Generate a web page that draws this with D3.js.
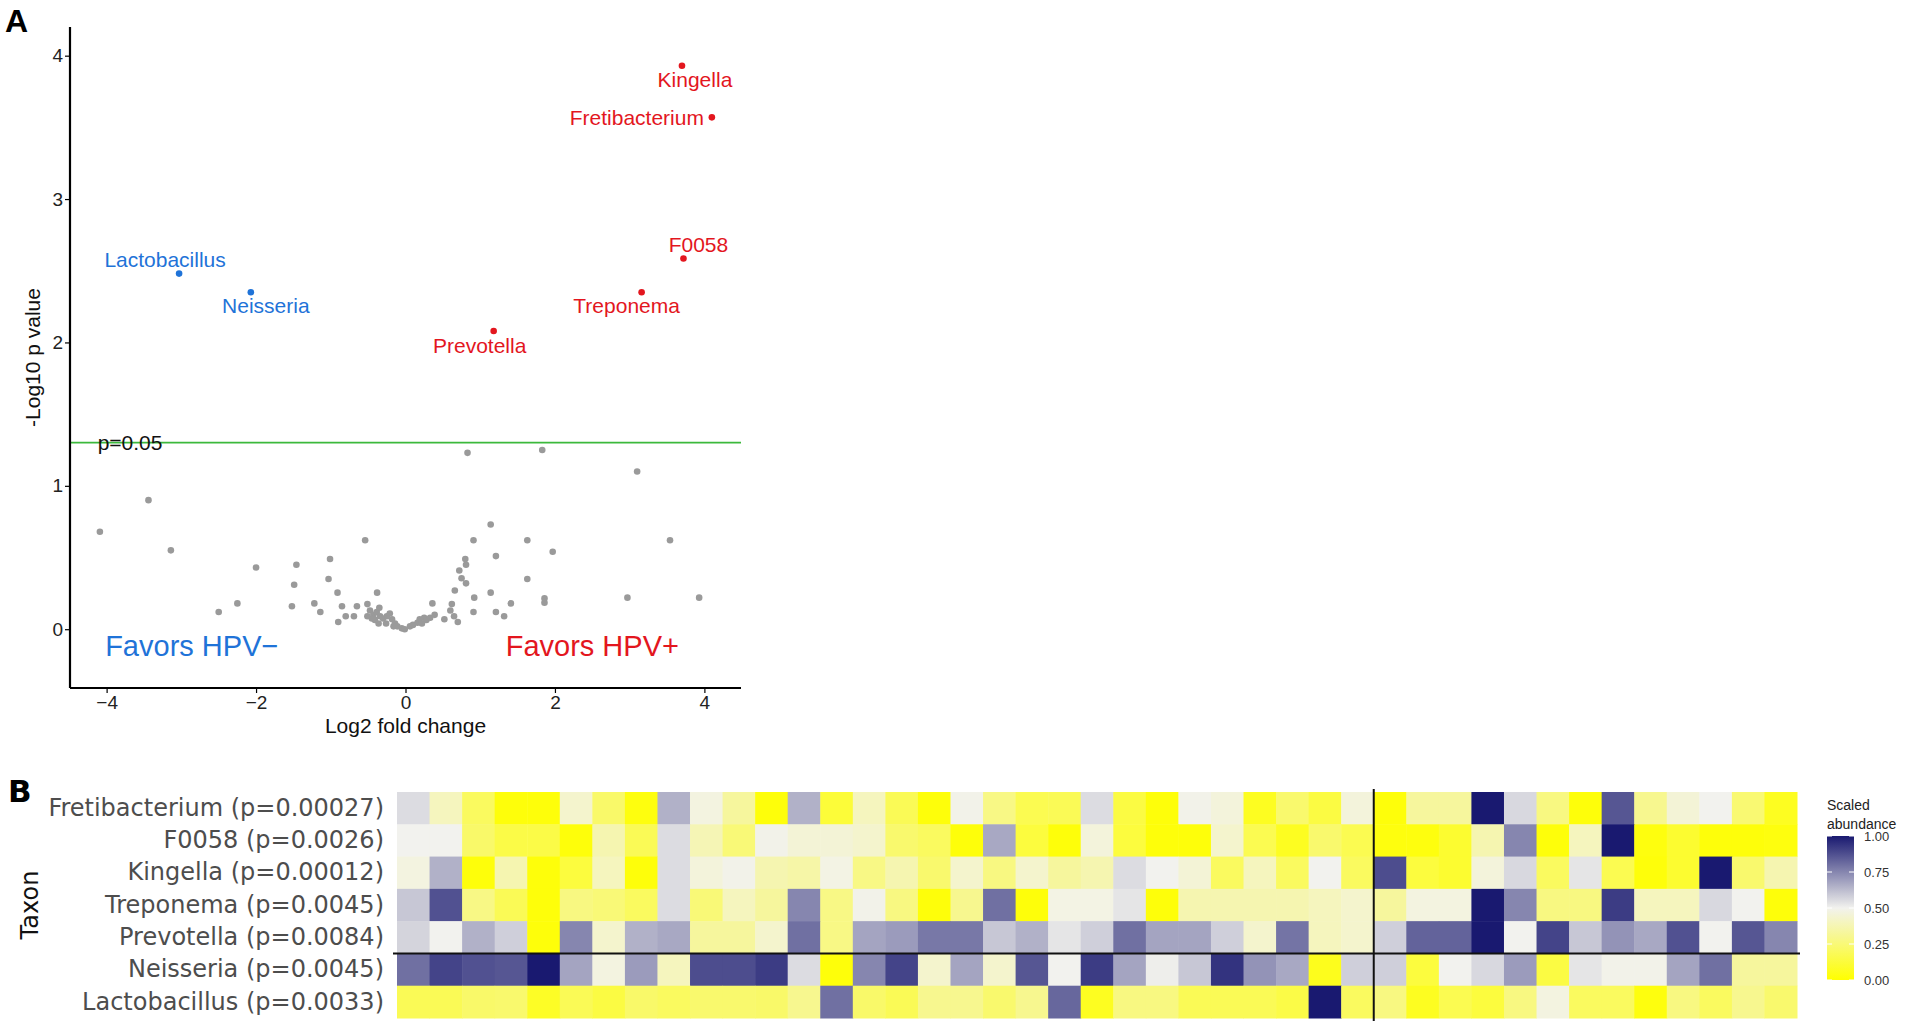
<!DOCTYPE html>
<html>
<head>
<meta charset="utf-8">
<script src="https://d3js.org/d3.v7.min.js"></script>
<style>
  body{margin:0;background:#fff;}
  svg{display:block;background:#fff;}
  .vol text{font-family:"Liberation Sans",Arial,sans-serif;}
  .heat text{font-family:"DejaVu Sans",Verdana,sans-serif;}
  .leg text{font-family:"Liberation Sans",Arial,sans-serif;}
</style>
</head>
<body>
<svg id="fig" width="1920" height="1030"></svg>
<script>
// ---- panel A data : volcano ----
const sigTaxa = ['Kingella','Fretibacterium','F0058','Treponema','Prevotella','Lactobacillus','Neisseria'];
const sigFC   = [3.70, 4.10, 3.72, 3.16, 1.18, -3.03, -2.07];
const sigP    = [3.93, 3.57, 2.585, 2.35, 2.08, 2.48, 2.35];
const sigSide = ['pos','pos','pos','pos','pos','neg','neg'];

// non significant taxa
const otherFC = [0.83,1.83,3.10,-3.44,-4.09,-3.14,1.14,3.54,2.97,3.93,-2.25,-2.50,-2.0,
  -0.54,0.91,1.63,1.97,-1.01,-1.46,0.80,0.81,1.21,0.72,0.75,0.81,-1.49,-1.03,1.63,0.66,-0.91,-0.38,1.14,0.92,1.86,1.86,1.41,
  -1.52,-1.22,0.36,0.62,-0.85,-0.65,-0.51,-1.14,0.91,1.21,0.60,-0.80,-0.69,1.32,0.65,-0.90,0.70,0.52,
  -0.475,-0.43,-0.45,-0.385,-0.34,-0.35,-0.36,-0.30,-0.25,-0.21,-0.26,-0.18,-0.14,-0.11,-0.05,-0.01,-0.16,
  0.06,0.10,0.16,0.19,0.22,0.25,0.28,0.33,0.39,-0.41,-0.51];
const otherP  = [1.23,1.25,1.10,0.90,0.68,0.55,0.73,0.62,0.22,0.22,0.18,0.12,0.43,
  0.62,0.62,0.62,0.54,0.49,0.45,0.49,0.45,0.51,0.41,0.355,0.32,0.31,0.35,0.35,0.27,0.255,0.255,0.255,0.22,0.215,0.185,0.18,
  0.16,0.18,0.18,0.175,0.16,0.16,0.175,0.12,0.12,0.12,0.13,0.09,0.09,0.09,0.09,0.05,0.05,0.07,
  0.13,0.10,0.075,0.12,0.09,0.15,0.04,0.075,0.09,0.11,0.04,0.07,0.04,0.02,0.006,0.0,0.02,
  0.02,0.03,0.045,0.07,0.04,0.08,0.065,0.08,0.10,0.065,0.09];

const xTicks = [-4,-2,0,2,4];
const yTicks = [0,1,2,3,4];
const pCut = 0.05;

// ---- panel B data : heatmap ----
const heatTaxa  = ['Fretibacterium','F0058','Kingella','Treponema','Prevotella','Neisseria','Lactobacillus'];
const heatPvals = ['0.00027','0.0026','0.00012','0.0045','0.0084','0.0045','0.0033'];
const nHpvNeg = 30;
const fretibacterium = [0.55,0.4,0.2,0.02,0.02,0.43,0.22,0.03,0.65,0.47,0.33,0.02,0.65,0.12,0.4,
  0.18,0.02,0.49,0.28,0.17,0.18,0.55,0.14,0.02,0.49,0.46,0.07,0.23,0.14,
  0.46,0.02,0.33,0.33,1.0,0.56,0.27,0.02,0.86,0.3,0.45,0.5,0.24,0.07];
const f0058 = [0.5,0.5,0.22,0.15,0.15,0.02,0.37,0.18,0.55,0.38,0.25,0.49,0.45,0.45,0.43,
  0.23,0.2,0.02,0.67,0.13,0.02,0.46,0.13,0.02,0.02,0.43,0.17,0.07,0.23,
  0.17,0.03,0.03,0.1,0.37,0.75,0.02,0.4,1.0,0.03,0.1,0.02,0.02,0.03];
const kingella = [0.47,0.65,0.02,0.37,0.02,0.13,0.4,0.02,0.55,0.46,0.49,0.37,0.35,0.48,0.28,
  0.37,0.23,0.43,0.27,0.43,0.33,0.37,0.55,0.5,0.45,0.2,0.4,0.2,0.5,
  0.2,0.88,0.13,0.1,0.46,0.56,0.2,0.53,0.17,0.02,0.1,1.0,0.23,0.37];
const treponema = [0.6,0.87,0.28,0.18,0.02,0.27,0.25,0.2,0.55,0.25,0.4,0.33,0.75,0.28,0.49,
  0.27,0.02,0.3,0.8,0.02,0.48,0.48,0.53,0.02,0.37,0.37,0.37,0.37,0.4,
  0.43,0.33,0.47,0.47,1.0,0.75,0.27,0.27,0.92,0.4,0.4,0.56,0.5,0.02];
const prevotella = [0.57,0.5,0.65,0.58,0.02,0.75,0.43,0.65,0.67,0.33,0.33,0.43,0.8,0.28,0.68,
  0.7,0.78,0.78,0.6,0.65,0.53,0.58,0.8,0.68,0.68,0.58,0.43,0.79,0.4,
  0.43,0.58,0.83,0.83,1.0,0.5,0.9,0.6,0.72,0.67,0.87,0.5,0.86,0.75];
const neisseria = [0.8,0.9,0.87,0.86,1.0,0.68,0.47,0.7,0.4,0.88,0.88,0.92,0.55,0.02,0.75,
  0.9,0.43,0.68,0.43,0.86,0.5,0.92,0.68,0.51,0.6,0.94,0.72,0.67,0.06,
  0.58,0.58,0.13,0.5,0.56,0.7,0.14,0.53,0.49,0.49,0.68,0.8,0.33,0.33];
const lactobacillus = [0.18,0.18,0.22,0.23,0.08,0.18,0.14,0.22,0.2,0.23,0.23,0.22,0.3,0.8,0.22,
  0.18,0.3,0.3,0.23,0.3,0.82,0.07,0.27,0.27,0.18,0.18,0.18,0.15,1.0,
  0.2,0.27,0.07,0.17,0.13,0.27,0.47,0.2,0.2,0.03,0.27,0.2,0.3,0.23];
const legendTicks = [0,0.25,0.5,0.75,1];

const svg = d3.select('#fig');
const red = '#e3161e', blue = '#1f73d8';

drawVolcano();
drawHeatmap();

function drawVolcano(){
  const g = svg.append('g').attr('class','vol');
  const x = d3.scaleLinear().domain([-4.49,4.49]).range([70,741]);
  const y = d3.scaleLinear().domain([-0.41,4.2]).range([688,27]);

  g.append('text').attr('x',5).attr('y',32).attr('font-size',32).attr('font-weight','bold').text('A');

  // threshold line
  g.append('line').attr('x1',x.range()[0]).attr('x2',x.range()[1])
    .attr('y1',y(-Math.log10(pCut))).attr('y2',y(-Math.log10(pCut)))
    .attr('stroke','#3cb93c').attr('stroke-width',1.6);
  g.append('text').attr('x',x(-4.12)).attr('y',y(-Math.log10(pCut))).attr('dy','0.35em')
    .attr('font-size',21).attr('fill','#111').text('p=0.05');

  const others = otherFC.map((d,i) => ({fc:d, p:otherP[i]}));
  g.append('g').selectAll('circle').data(others).enter().append('circle')
    .attr('cx', d => x(d.fc)).attr('cy', d => y(d.p)).attr('r',3.3)
    .attr('fill','#9a9a9a');

  const sig = sigTaxa.map((t,i) => ({name:t, fc:sigFC[i], p:sigP[i], side:sigSide[i]}));
  // label offsets (px) relative to the point, like ggrepel placed them
  const off = {Kingella:[13,21], Fretibacterium:[-75,7.5], F0058:[15,-7], Treponema:[-15,21],
               Prevotella:[-14,22], Lactobacillus:[-14,-7], Neisseria:[15,21]};
  g.append('g').selectAll('circle').data(sig).enter().append('circle')
    .attr('cx', d => x(d.fc)).attr('cy', d => y(d.p)).attr('r',3.3)
    .attr('fill', d => d.side==='pos'?red:blue);
  g.append('g').selectAll('text').data(sig).enter().append('text')
    .attr('x', d => x(d.fc)+off[d.name][0]).attr('y', d => y(d.p)+off[d.name][1])
    .attr('text-anchor','middle').attr('font-size',21)
    .attr('fill', d => d.side==='pos'?red:blue).text(d => d.name);

  g.append('text').attr('x',x(-2.86)).attr('y',y(-0.19)).attr('text-anchor','middle')
    .attr('font-size',29).attr('fill',blue).text('Favors HPV\u2212');
  g.append('text').attr('x',x(2.5)).attr('y',y(-0.19)).attr('text-anchor','middle')
    .attr('font-size',29).attr('fill',red).text('Favors HPV+');

  const xAxis = g.append('g').attr('transform','translate(0,688)')
    .call(d3.axisBottom(x).tickValues(xTicks).tickSize(5).tickPadding(3).tickFormat(d => d<0?'\u2212'+Math.abs(d):d));
  const yAxis = g.append('g').attr('transform','translate(70,0)')
    .call(d3.axisLeft(y).tickValues(yTicks).tickSize(5).tickPadding(2).tickFormat(d3.format('d')));
  [xAxis,yAxis].forEach(a => {
    a.select('.domain').attr('stroke','#000').attr('stroke-width',2.2);
    a.selectAll('.tick line').attr('stroke','#000').attr('stroke-width',1.2);
    a.selectAll('text').attr('font-size',19).attr('fill','#222')
      .attr('font-family','"Liberation Sans",Arial,sans-serif');
  });
  // plain axis lines without the outer stubs
  xAxis.select('.domain').attr('d','M70,0H741');
  yAxis.select('.domain').attr('d','M0,27V688');

  g.append('text').attr('x',(x.range()[0]+x.range()[1])/2).attr('y',733)
    .attr('text-anchor','middle').attr('font-size',21).attr('fill','#111').text('Log2 fold change');
  g.append('text').attr('transform','translate(40,'+((y.range()[0]+y.range()[1])/2)+') rotate(-90)')
    .attr('text-anchor','middle').attr('font-size',21).attr('fill','#111').text('-Log10 p value');
}

function drawHeatmap(){
  const g = svg.append('g').attr('class','heat');
  const rows = [fretibacterium,f0058,kingella,treponema,prevotella,neisseria,lactobacillus];
  const nCol = rows[0].length;
  const x = d3.scaleBand().domain(d3.range(nCol)).range([397,1797]);
  const y = d3.scaleBand().domain(heatTaxa).range([792,1018]);
  const color = d3.scaleLinear().domain([0,0.5,1])
    .range(['#ffff00','#f2f2ee','#191970']).interpolate(d3.interpolateRgb);

  g.append('text').attr('x',8).attr('y',802).attr('font-size',31).attr('font-weight','bold')
    .attr('font-family','"Liberation Sans",Arial,sans-serif').text('B');

  const cells = [];
  rows.forEach((r,i) => r.forEach((v,j) => cells.push({taxon:heatTaxa[i], col:j, v:v})));
  g.append('g').selectAll('rect').data(cells).enter().append('rect')
    .attr('x', d => x(d.col)).attr('y', d => y(d.taxon))
    .attr('width', x.bandwidth()+0.5).attr('height', y.bandwidth()+0.5)
    .attr('fill', d => color(d.v));

  // group dividers
  g.append('line').attr('x1',393).attr('x2',1800)
    .attr('y1',y('Neisseria')).attr('y2',y('Neisseria')).attr('stroke','#111').attr('stroke-width',2);
  g.append('line').attr('x1',x(nHpvNeg)).attr('x2',x(nHpvNeg))
    .attr('y1',789).attr('y2',1021).attr('stroke','#111').attr('stroke-width',2);

  const yAxis = g.append('g').attr('transform','translate(397,0)')
    .call(d3.axisLeft(y).tickSize(0).tickPadding(13)
      .tickFormat(d => d+' (p='+heatPvals[heatTaxa.indexOf(d)]+')'));
  yAxis.select('.domain').remove();
  yAxis.selectAll('text').attr('font-size',24).attr('fill','#4d4d4d')
    .attr('font-family','"DejaVu Sans",Verdana,sans-serif');

  g.append('text').attr('transform','translate(38,'+((y.range()[0]+y.range()[1])/2)+') rotate(-90)')
    .attr('text-anchor','middle').attr('font-size',24).attr('fill','#111').text('Taxon');

  // colour bar legend
  const lg = svg.append('g').attr('class','leg');
  const ly = d3.scaleLinear().domain([0,1]).range([980,836]);
  const grad = svg.append('defs').append('linearGradient').attr('id','cbar')
    .attr('x1',0).attr('x2',0).attr('y1',1).attr('y2',0);
  grad.selectAll('stop').data(d3.range(0,1.001,0.05)).enter().append('stop')
    .attr('offset', d => d).attr('stop-color', d => color(d));
  lg.append('rect').attr('x',1827).attr('y',ly(1)).attr('width',27).attr('height',ly(0)-ly(1))
    .attr('fill','url(#cbar)');
  lg.selectAll('.tk').data(legendTicks).enter().append('g').attr('class','tk')
    .each(function(d){
      const s = d3.select(this);
      s.append('line').attr('x1',1827).attr('x2',1832).attr('y1',ly(d)).attr('y2',ly(d)).attr('stroke','#fff');
      s.append('line').attr('x1',1849).attr('x2',1854).attr('y1',ly(d)).attr('y2',ly(d)).attr('stroke','#fff');
    });
  const la = lg.append('g').attr('transform','translate(1854,0)')
    .call(d3.axisRight(ly).tickValues(legendTicks).tickSize(0).tickPadding(10).tickFormat(d3.format('.2f')));
  la.select('.domain').remove();
  la.selectAll('text').attr('font-size',13).attr('fill','#333')
    .attr('font-family','"Liberation Sans",Arial,sans-serif');
  lg.append('text').attr('x',1827).attr('y',810).attr('font-size',14).attr('fill','#222').text('Scaled');
  lg.append('text').attr('x',1827).attr('y',829).attr('font-size',14).attr('fill','#222').text('abundance');
}
</script>
</body>
</html>
